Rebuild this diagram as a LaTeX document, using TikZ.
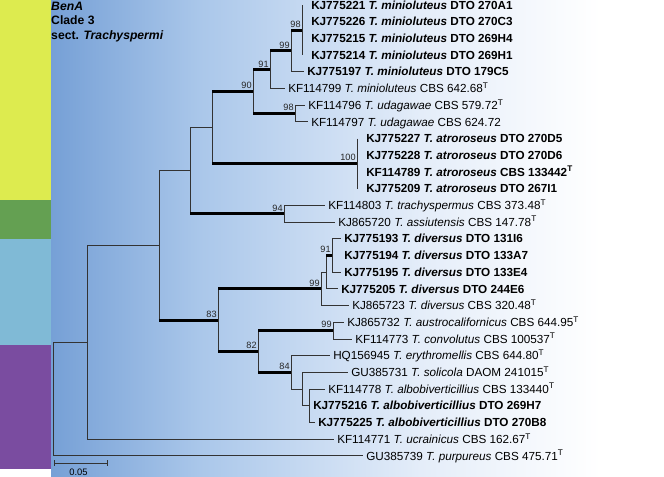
\documentclass[tikz,border=0pt]{standalone}
\usepackage{fontspec}
\setmainfont{Liberation Sans}
\usetikzlibrary{calc}
\definecolor{cladeYellow}{RGB}{221,235,79}
\definecolor{cladeGreen}{RGB}{100,160,82}
\definecolor{cladeBlue}{RGB}{128,186,214}
\definecolor{cladePurple}{RGB}{122,76,160}
\definecolor{bgA}{RGB}{118,160,214}
\definecolor{bgB}{RGB}{170,199,234}
\definecolor{bgC}{RGB}{228,237,249}
\newcommand{\typeT}{\textsuperscript{T}}
\tikzset{
    branch/.style={draw=black!80, line width=0.7pt},
    bsbranch/.style={draw=black, line width=2.6pt},
    taxon/.style={anchor=west, inner xsep=3pt, inner ysep=0pt, text height=7pt, text depth=0pt, font=\fontsize{10}{12}\selectfont},
    bootlabel/.style={anchor=south east, inner sep=1pt, yshift=1pt, text=black!85, font=\fontsize{7.8}{9}\selectfont},
    tree settings/.style={x=0.03cm, y=-0.03cm}
}

\begin{document}
\begin{tikzpicture}[tree settings]
    \useasboundingbox (0,0) rectangle (664,477);

    % 1. Background fade and clade strip
    \shade[left color=bgA, right color=bgB] (51,0) rectangle (200.5,477);
    \shade[left color=bgB, right color=bgC] (200,0) rectangle (420.5,477);
    \shade[left color=bgC, right color=white] (420,0) rectangle (600.5,477);
    \fill[white] (600,0) rectangle (664,477);
    \fill[cladeYellow] (0,0) rectangle (51,200);
    \fill[cladeGreen] (0,200) rectangle (51,239);
    \fill[cladeBlue] (0,239) rectangle (51,345);
    \fill[cladePurple] (0,345) rectangle (51,469);
    \fill[white] (0,469) rectangle (51,477);

    % 2. Title
    \node[anchor=north west, inner sep=0pt, align=left, font=\fontsize{10.4}{12.4}\selectfont\bfseries]
        (title) at (51,1.5) {\textit{BenA}\\Clade 3\\sect. \textit{Trachyspermi}};

    % 3. Taxa (one row every \dy)
    \def\dy{16.7}
    \foreach \i/\xx/\lab in {
        1/307.5/{\textbf{KJ775221 \textit{T. minioluteus} DTO 270A1}},
        2/307.5/{\textbf{KJ775226 \textit{T. minioluteus} DTO 270C3}},
        3/307.5/{\textbf{KJ775215 \textit{T. minioluteus} DTO 269H4}},
        4/307.5/{\textbf{KJ775214 \textit{T. minioluteus} DTO 269H1}},
        5/303.5/{\textbf{KJ775197 \textit{T. minioluteus} DTO 179C5}},
        6/284.5/{KF114799 \textit{T. minioluteus} CBS 642.68\typeT},
        7/304.5/{KF114796 \textit{T. udagawae} CBS 579.72\typeT},
        8/307.5/{KF114797 \textit{T. udagawae} CBS 624.72},
        9/362.5/{\textbf{KJ775227 \textit{T. atroroseus} DTO 270D5}},
        10/362.5/{\textbf{KJ775228 \textit{T. atroroseus} DTO 270D6}},
        11/362.5/{\textbf{KF114789 \textit{T. atroroseus} CBS 133442\typeT}},
        12/362.5/{\textbf{KJ775209 \textit{T. atroroseus} DTO 267I1}},
        13/324.5/{KF114803 \textit{T. trachyspermus} CBS 373.48\typeT},
        14/334.5/{KJ865720 \textit{T. assiutensis} CBS 147.78\typeT},
        15/340.5/{\textbf{KJ775193 \textit{T. diversus} DTO 131I6}},
        16/340.5/{\textbf{KJ775194 \textit{T. diversus} DTO 133A7}},
        17/340.5/{\textbf{KJ775195 \textit{T. diversus} DTO 133E4}},
        18/337.5/{\textbf{KJ775205 \textit{T. diversus} DTO 244E6}},
        19/348.5/{KJ865723 \textit{T. diversus} CBS 320.48\typeT},
        20/343.5/{KJ865732 \textit{T. austrocalifornicus} CBS 644.95\typeT},
        21/351.5/{KF114773 \textit{T. convolutus} CBS 100537\typeT},
        22/329.5/{HQ156945 \textit{T. erythromellis} CBS 644.80\typeT},
        23/347.5/{GU385731 \textit{T. solicola} DAOM 241015\typeT},
        24/324.5/{KF114778 \textit{T. albobiverticillius} CBS 133440\typeT},
        25/309.5/{\textbf{KJ775216 \textit{T. albobiverticillius} DTO 269H7}},
        26/314.5/{\textbf{KJ775225 \textit{T. albobiverticillius} DTO 270B8}},
        27/333.5/{KF114771 \textit{T. ucrainicus} CBS 162.67\typeT},
        28/362.5/{GU385739 \textit{T. purpureus} CBS 475.71\typeT}} {
        \node[taxon] (l\i) at (\xx, {5+(\i-1)*\dy}) {\lab};
    }

    % 4. Internal nodes
    \coordinate (minA) at (302, 30.05);
    \coordinate (minB) at (291, 50.9);
    \coordinate (minC) at (270, 69.7);
    \coordinate (udag) at (295, 113.55);
    \coordinate (minio) at (253, 91.6);
    \coordinate (atro) at (357, 163.65);
    \coordinate (sectA) at (212, 127.6);
    \coordinate (trach) at (284, 213.75);
    \coordinate (sectB) at (190, 170.7);
    \coordinate (divA) at (332, 255.5);
    \coordinate (divB) at (326, 272.2);
    \coordinate (divC) at (321, 288.9);
    \coordinate (austro) at (333, 330.65);
    \coordinate (albo) at (309, 405.8);
    \coordinate (soli) at (302, 389.1);
    \coordinate (eryth) at (291, 372.4);
    \coordinate (clB) at (258, 351.5);
    \coordinate (clA) at (218, 320.2);
    \coordinate (upper) at (159, 245.45);
    \coordinate (ingroup) at (87, 342.3);
    \coordinate (root) at (53, 399.1);

    % 5. Vertical lines of each node
    \foreach \n/\a/\b in {minA/l1/l4, minB/minA/l5, minC/minB/l6, udag/l7/l8,
        minio/minC/udag, atro/l9/l12, sectA/minio/atro, trach/l13/l14,
        sectB/sectA/trach, divA/l15/l17, divB/divA/l18, divC/divB/l19,
        austro/l20/l21, albo/l24/l26, soli/l23/albo, eryth/l22/soli,
        clB/austro/eryth, clA/divC/clB, upper/sectB/clA, ingroup/upper/l27,
        root/ingroup/l28}
        \draw[branch] (\n |- \a) -- (\n |- \b);

    % 6. Terminal branches
    \foreach \n/\t in {minB/5, minC/6, udag/7, udag/8, trach/13, trach/14,
        divA/15, divA/17, divB/18, divC/19, austro/20, austro/21, eryth/22,
        soli/23, albo/24, albo/26, ingroup/27, root/28}
        \draw[branch] (\n |- l\t) -- (l\t.west);

    % 7. Internal branches, bold ones with support
    \foreach \p/\c/\bs in {minB/minA/98, minC/minB/99, minio/minC/91,
        minio/udag/98, sectA/minio/90, sectA/atro/100, sectB/trach/94,
        divB/divA/91, clA/divC/99, clB/austro/99, clB/eryth/84,
        clA/clB/82, upper/clA/83} {
        \draw[bsbranch] (\p |- \c) -- (\c);
        \node[bootlabel] (bs-\c) at (\c) {\bs};
    }
    \foreach \p/\c in {sectB/sectA, upper/sectB, divC/divB, eryth/soli,
        soli/albo, ingroup/upper, root/ingroup}
        \draw[branch] (\p |- \c) -- (\c);

    % 8. Scale bar
    \coordinate (sbL) at (54,463);
    \coordinate (sbR) at (107,463);
    \draw[branch] (sbL) -- (sbR);
    \draw[branch] ($(sbL)+(0,-3)$) -- ($(sbL)+(0,3)$);
    \draw[branch] ($(sbR)+(0,-3)$) -- ($(sbR)+(0,3)$);
    \node[inner sep=0pt, font=\fontsize{8}{9}\selectfont] (sblab) at (78.5,472) {0.05};

\end{tikzpicture}
\end{document}
